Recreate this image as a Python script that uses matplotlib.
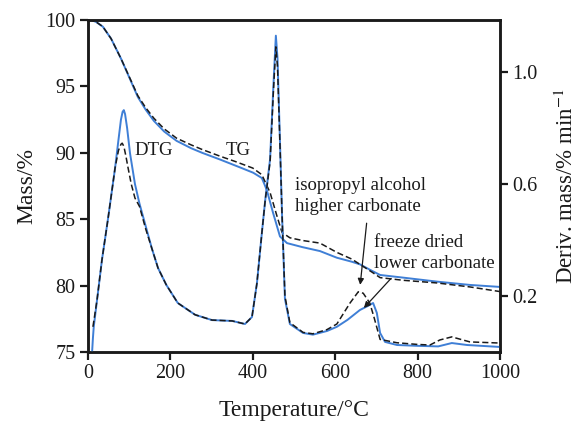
import numpy as np
import matplotlib
matplotlib.use('Agg')
import matplotlib.pyplot as plt

plt.rcParams['font.family'] = ['Liberation Serif', 'DejaVu Serif']
plt.rcParams['mathtext.fontset'] = 'stix'

# TG curves (mass %)
tg_iso_T = [0, 10, 20, 36, 56, 80, 102, 121, 140, 160, 185, 215, 250, 277, 320, 357, 400, 422,
            442, 459, 471, 490, 520, 563, 604, 640, 660, 690, 709, 765, 847, 927, 1000]
tg_iso_m = [100, 99.97, 99.85, 99.5, 98.6, 97.1, 95.6, 94.3, 93.4, 92.6, 91.8, 91.1, 90.6,
            90.25, 89.75, 89.35, 88.85, 88.35, 87.0, 85.2, 84.0, 83.6, 83.4, 83.2, 82.5, 82.0,
            81.6, 81.0, 80.6, 80.4, 80.2, 79.9, 79.55]

tg_fd_T = [0, 10, 20, 36, 56, 80, 102, 121, 140, 160, 185, 215, 250, 277, 320, 369, 401, 422,
           434, 449, 466, 483, 520, 563, 604, 640, 660, 690, 709, 765, 847, 927, 1000]
tg_fd_m = [100, 99.97, 99.85, 99.5, 98.6, 97.1, 95.55, 94.2, 93.25, 92.4, 91.6, 90.9, 90.35,
           90.0, 89.5, 88.9, 88.5, 88.1, 87.2, 85.5, 83.7, 83.2, 82.9, 82.6, 82.1, 81.8, 81.6,
           81.1, 80.8, 80.6, 80.3, 80.05, 79.9]

# DTG curves (deriv. mass, %/min)
dtg_fd_T = [10, 12, 14, 22, 34, 49, 66, 73, 80, 84, 87, 90, 95, 102, 114, 125, 140, 155, 170,
            190, 218, 260, 301, 350, 381, 398, 410, 422, 430, 442, 450, 456, 460, 466, 471,
            478, 490, 522, 546, 580, 604, 630, 660, 680, 692, 701, 709, 721, 750, 800, 850,
            883, 920, 1000]
dtg_fd_d = [0.0, 0.05, 0.09, 0.186, 0.33, 0.48, 0.66, 0.746, 0.83, 0.858, 0.864, 0.85, 0.80,
            0.71, 0.60, 0.53, 0.45, 0.37, 0.30, 0.24, 0.175, 0.133, 0.114, 0.111, 0.10, 0.125,
            0.245, 0.425, 0.54, 0.69, 0.95, 1.13, 1.05, 0.75, 0.49, 0.19, 0.10, 0.068, 0.062,
            0.075, 0.09, 0.115, 0.15, 0.165, 0.175, 0.14, 0.068, 0.036, 0.025, 0.022, 0.02,
            0.032, 0.025, 0.018]

dtg_iso_T = [12, 22, 34, 49, 66, 74, 80, 83, 87, 92, 97, 105, 114, 125, 140, 155, 170, 190,
             218, 260, 301, 350, 381, 398, 410, 422, 430, 442, 450, 456, 460, 466, 471, 478,
             490, 522, 546, 580, 604, 636, 656, 668, 684, 695, 709, 750, 800, 830, 854, 883,
             927, 1000]
dtg_iso_d = [0.09, 0.186, 0.33, 0.48, 0.66, 0.72, 0.742, 0.746, 0.735, 0.70, 0.66, 0.60, 0.55,
             0.52, 0.44, 0.37, 0.30, 0.24, 0.175, 0.133, 0.114, 0.111, 0.10, 0.125, 0.245,
             0.425, 0.54, 0.68, 0.93, 1.09, 1.02, 0.74, 0.49, 0.20, 0.105, 0.07, 0.065, 0.08,
             0.10, 0.175, 0.215, 0.21, 0.175, 0.12, 0.045, 0.033, 0.027, 0.025, 0.043, 0.054,
             0.036, 0.032]

blue = '#3f7fd6'
ink = '#1a1a1a'

fig = plt.figure(figsize=(5.85, 4.21), dpi=100)
ax = fig.add_axes([0.1504, 0.1639, 0.7043, 0.7886])
ax2 = ax.twinx()

ax.plot(tg_fd_T, tg_fd_m, color=blue, lw=1.4)
ax.plot(tg_iso_T, tg_iso_m, color=ink, lw=1.1, ls=(0, (4, 2)))
ax2.plot(dtg_fd_T, dtg_fd_d, color=blue, lw=1.4)
ax2.plot(dtg_iso_T, dtg_iso_d, color=ink, lw=1.1, ls=(0, (4, 2)))

ax.set_xlim(0, 1000)
ax.set_ylim(75, 100)
ax2.set_ylim(0, 1.186)
ax.set_xticks([0, 200, 400, 600, 800, 1000])
ax.set_yticks([75, 80, 85, 90, 95, 100])
ax2.set_yticks([0.2, 0.6, 1.0])
ax2.set_yticklabels(['0.2', '0.6', '1.0'])

for a in (ax, ax2):
    for s in a.spines.values():
        s.set_linewidth(1.8)
        s.set_color(ink)
ax.tick_params(axis='both', direction='out', length=6, width=1.6, labelsize=14.5,
               colors=ink, pad=3)
ax2.tick_params(axis='y', direction='out', length=6, width=1.6, labelsize=14.5,
                colors=ink, pad=3)

ax.set_xlabel('Temperature/°C', fontsize=17, color=ink, labelpad=12)
ax.set_ylabel('Mass/%', fontsize=17, color=ink, labelpad=6)
ax2.set_ylabel('Deriv. mass/% min$^{-1}$', fontsize=16.5, color=ink, labelpad=12)

ax.text(113, 90.2, 'DTG', fontsize=13.5, color=ink, va='center')
ax.text(333, 90.2, 'TG', fontsize=13.5, color=ink, va='center')
ax.text(502, 86.75, 'isopropyl alcohol\nhigher carbonate', fontsize=13.5, color=ink,
        va='center', linespacing=1.3)
ax.text(694, 82.45, 'freeze dried\nlower carbonate', fontsize=13.5, color=ink,
        va='center', linespacing=1.3)

ax2.annotate('', xy=(660, 0.23), xytext=(677, 0.47),
             arrowprops=dict(arrowstyle='-|>', color=ink, lw=0.9, mutation_scale=9))
ax2.annotate('', xy=(665, 0.15), xytext=(740, 0.27),
             arrowprops=dict(arrowstyle='-|>', color=ink, lw=0.9, mutation_scale=9))

fig.savefig('out.png', dpi=100)
